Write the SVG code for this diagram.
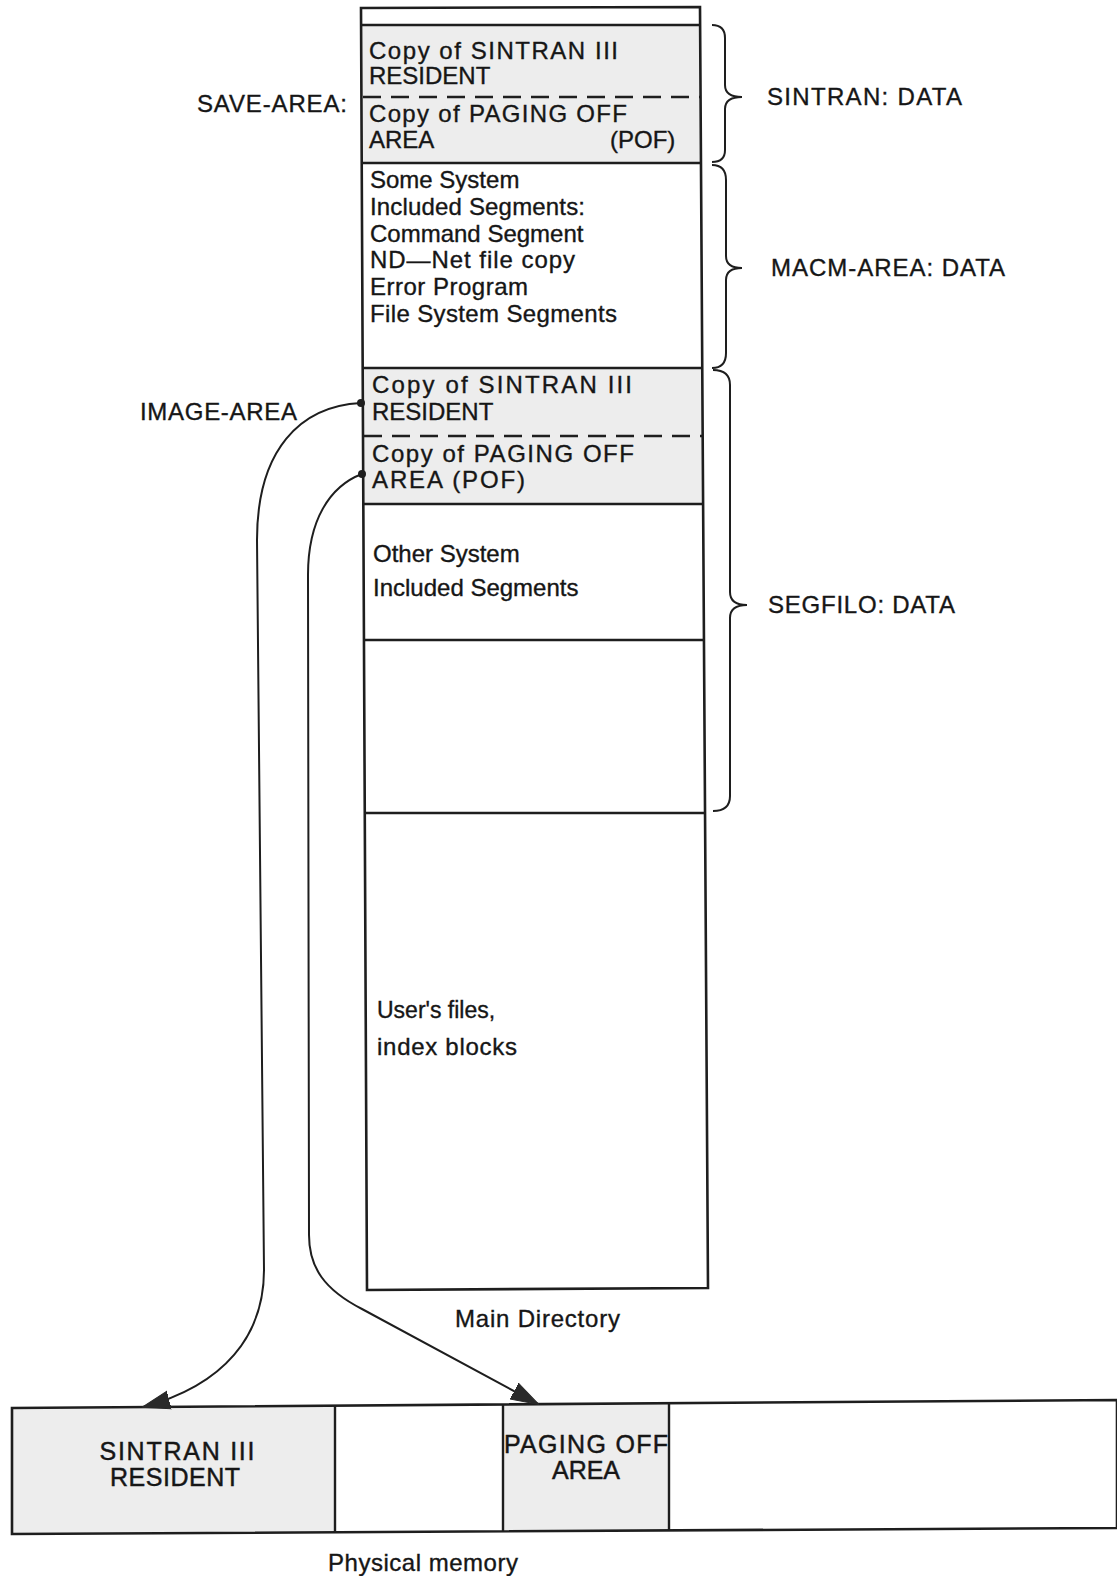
<svg xmlns="http://www.w3.org/2000/svg" width="1117" height="1576" viewBox="0 0 1117 1576">
<defs>
<style>
.t{font-family:"Liberation Sans",Arial,sans-serif;font-size:24px;fill:#161616;stroke:#161616;stroke-width:0.35}
.lbl{font-family:"Liberation Sans",Arial,sans-serif;font-size:24px;fill:#161616;stroke:#161616;stroke-width:0.35}
.b{font-family:"Liberation Sans",Arial,sans-serif;font-size:25px;fill:#161616;stroke:#161616;stroke-width:0.45}
.box{fill:none;stroke:#1e1e1e;stroke-width:2.6}
.ln{stroke:#1e1e1e;stroke-width:2.4;fill:none}
.dash{stroke:#1e1e1e;stroke-width:2.4;stroke-dasharray:18 10;fill:none}
.gray{fill:#ededed;stroke:none}
.br{fill:none;stroke:#1e1e1e;stroke-width:2}
.con{fill:none;stroke:#1e1e1e;stroke-width:2}
.dot{fill:#1e1e1e}
</style>
<marker id="ah" viewBox="0 0 28 20" refX="27" refY="10" markerWidth="28" markerHeight="20" markerUnits="userSpaceOnUse" orient="auto">
<path d="M0,1 L28,10 L0,19 Z" fill="#2a2a2a" stroke="#2a2a2a" stroke-width="1"/>
</marker>
</defs>
<rect width="1117" height="1576" fill="#ffffff"/>

<g id="main-directory">
<polygon class="gray" points="361.1,25 700.1,25 701,163 361.7,163"/>
<polygon class="gray" points="362.7,368 702.3,368 703.1,504 363.3,504"/>
<polygon class="box" points="361,8 700,7 708,1288 367,1290"/>
<line class="ln" x1="361.1" y1="25" x2="700.1" y2="25"/>
<line class="ln" x1="361.7" y1="163" x2="701" y2="163"/>
<line class="ln" x1="362.7" y1="368" x2="702.3" y2="368"/>
<line class="ln" x1="363.3" y1="504" x2="703.1" y2="504"/>
<line class="ln" x1="364" y1="640" x2="704" y2="640"/>
<line class="ln" x1="364.8" y1="813" x2="705" y2="813"/>
<line class="dash" x1="363" y1="97" x2="700.6" y2="97"/>
<line class="dash" x1="364" y1="436" x2="702.7" y2="436"/>
<text class="t" x="369" y="59" textLength="249" lengthAdjust="spacing">Copy of SINTRAN III</text>
<text class="t" x="369" y="84">RESIDENT</text>
<text class="t" x="369" y="122" textLength="258" lengthAdjust="spacing">Copy of PAGING OFF</text>
<text class="t" x="369" y="148">AREA</text>
<text class="t" x="610" y="148">(POF)</text>
<text class="t" x="370" y="188">Some System</text>
<text class="t" x="370" y="215" textLength="215" lengthAdjust="spacing">Included Segments:</text>
<text class="t" x="370" y="242">Command Segment</text>
<text class="t" x="370" y="268" textLength="205" lengthAdjust="spacing">ND—Net file copy</text>
<text class="t" x="370" y="295" textLength="158" lengthAdjust="spacing">Error Program</text>
<text class="t" x="370" y="322" textLength="247" lengthAdjust="spacing">File System Segments</text>
<text class="t" x="372" y="393" textLength="260" lengthAdjust="spacing">Copy of SINTRAN III</text>
<text class="t" x="372" y="420">RESIDENT</text>
<text class="t" x="372" y="462" textLength="262" lengthAdjust="spacing">Copy of PAGING OFF</text>
<text class="t" x="372" y="488" textLength="153" lengthAdjust="spacing">AREA (POF)</text>
<text class="t" x="373" y="562">Other System</text>
<text class="t" x="373" y="596">Included Segments</text>
<text class="t" x="377" y="1018" style="font-size:23px">User's files,</text>
<text class="t" x="377" y="1055" textLength="140" lengthAdjust="spacing">index blocks</text>
</g>
<text id="main-directory-label" class="t" x="455" y="1327" textLength="165" lengthAdjust="spacing">Main Directory</text>

<g id="save-area-label"><text class="lbl" x="197" y="112" textLength="150" lengthAdjust="spacing">SAVE-AREA:</text></g>
<g id="image-area-label"><text class="lbl" x="140" y="420" textLength="157" lengthAdjust="spacing">IMAGE-AREA</text></g>

<g id="sintran-data">
<path class="br" d="M712,25 Q725,25 725,38 L725,85 Q725,97 742,97 Q725,97 725,109 L725,150 Q725,162 712,162"/>
<text class="lbl" x="767" y="105" textLength="195" lengthAdjust="spacing">SINTRAN: DATA</text>
</g>
<g id="macm-area-data">
<path class="br" d="M712,165 Q726,165 726,180 L726,256 Q726,268 742,268 Q726,268 726,280 L726,353 Q726,368 712,368"/>
<text class="lbl" x="771" y="276" textLength="234" lengthAdjust="spacing">MACM-AREA: DATA</text>
</g>
<g id="segfilo-data">
<path class="br" d="M713,370 Q730,370 730,385 L730,592 Q730,605 747,605 Q730,605 730,618 L730,796 Q730,811 713,811"/>
<text class="lbl" x="768" y="613" textLength="187" lengthAdjust="spacing">SEGFILO: DATA</text>
</g>

<g id="physical-memory">
<polygon class="gray" points="12,1408 335,1406 335,1533 12,1534"/>
<polygon class="gray" points="503,1405 669,1404 669,1531 503,1532"/>
<polygon class="box" points="12,1408 1117,1400 1117,1528 12,1534"/>
<line class="ln" x1="335" y1="1406" x2="335" y2="1533"/>
<line class="ln" x1="503" y1="1405" x2="503" y2="1532"/>
<line class="ln" x1="669" y1="1404" x2="669" y2="1531"/>
<text class="b" x="177" y="1460" text-anchor="middle" textLength="155" lengthAdjust="spacing">SINTRAN III</text>
<text class="b" x="175" y="1486" text-anchor="middle" textLength="130" lengthAdjust="spacing">RESIDENT</text>
<text class="b" x="504" y="1453" textLength="164" lengthAdjust="spacing">PAGING OFF</text>
<text class="b" x="586" y="1479" text-anchor="middle">AREA</text>
</g>
<text id="physical-memory-label" class="t" x="328" y="1571" textLength="190" lengthAdjust="spacing">Physical memory</text>

<g id="connectors">
<path class="con" d="M361,403 C300,406 257,450 257,540 L264,1270 C264,1335 225,1385 143,1407" marker-end="url(#ah)"/>
<path class="con" d="M362,474 C330,486 308,520 308,575 L309,1235 C309,1268 325,1290 362,1309 L538,1404" marker-end="url(#ah)"/>
<circle class="dot" cx="361" cy="403" r="4"/>
<circle class="dot" cx="362" cy="474" r="4"/>
</g>
</svg>
